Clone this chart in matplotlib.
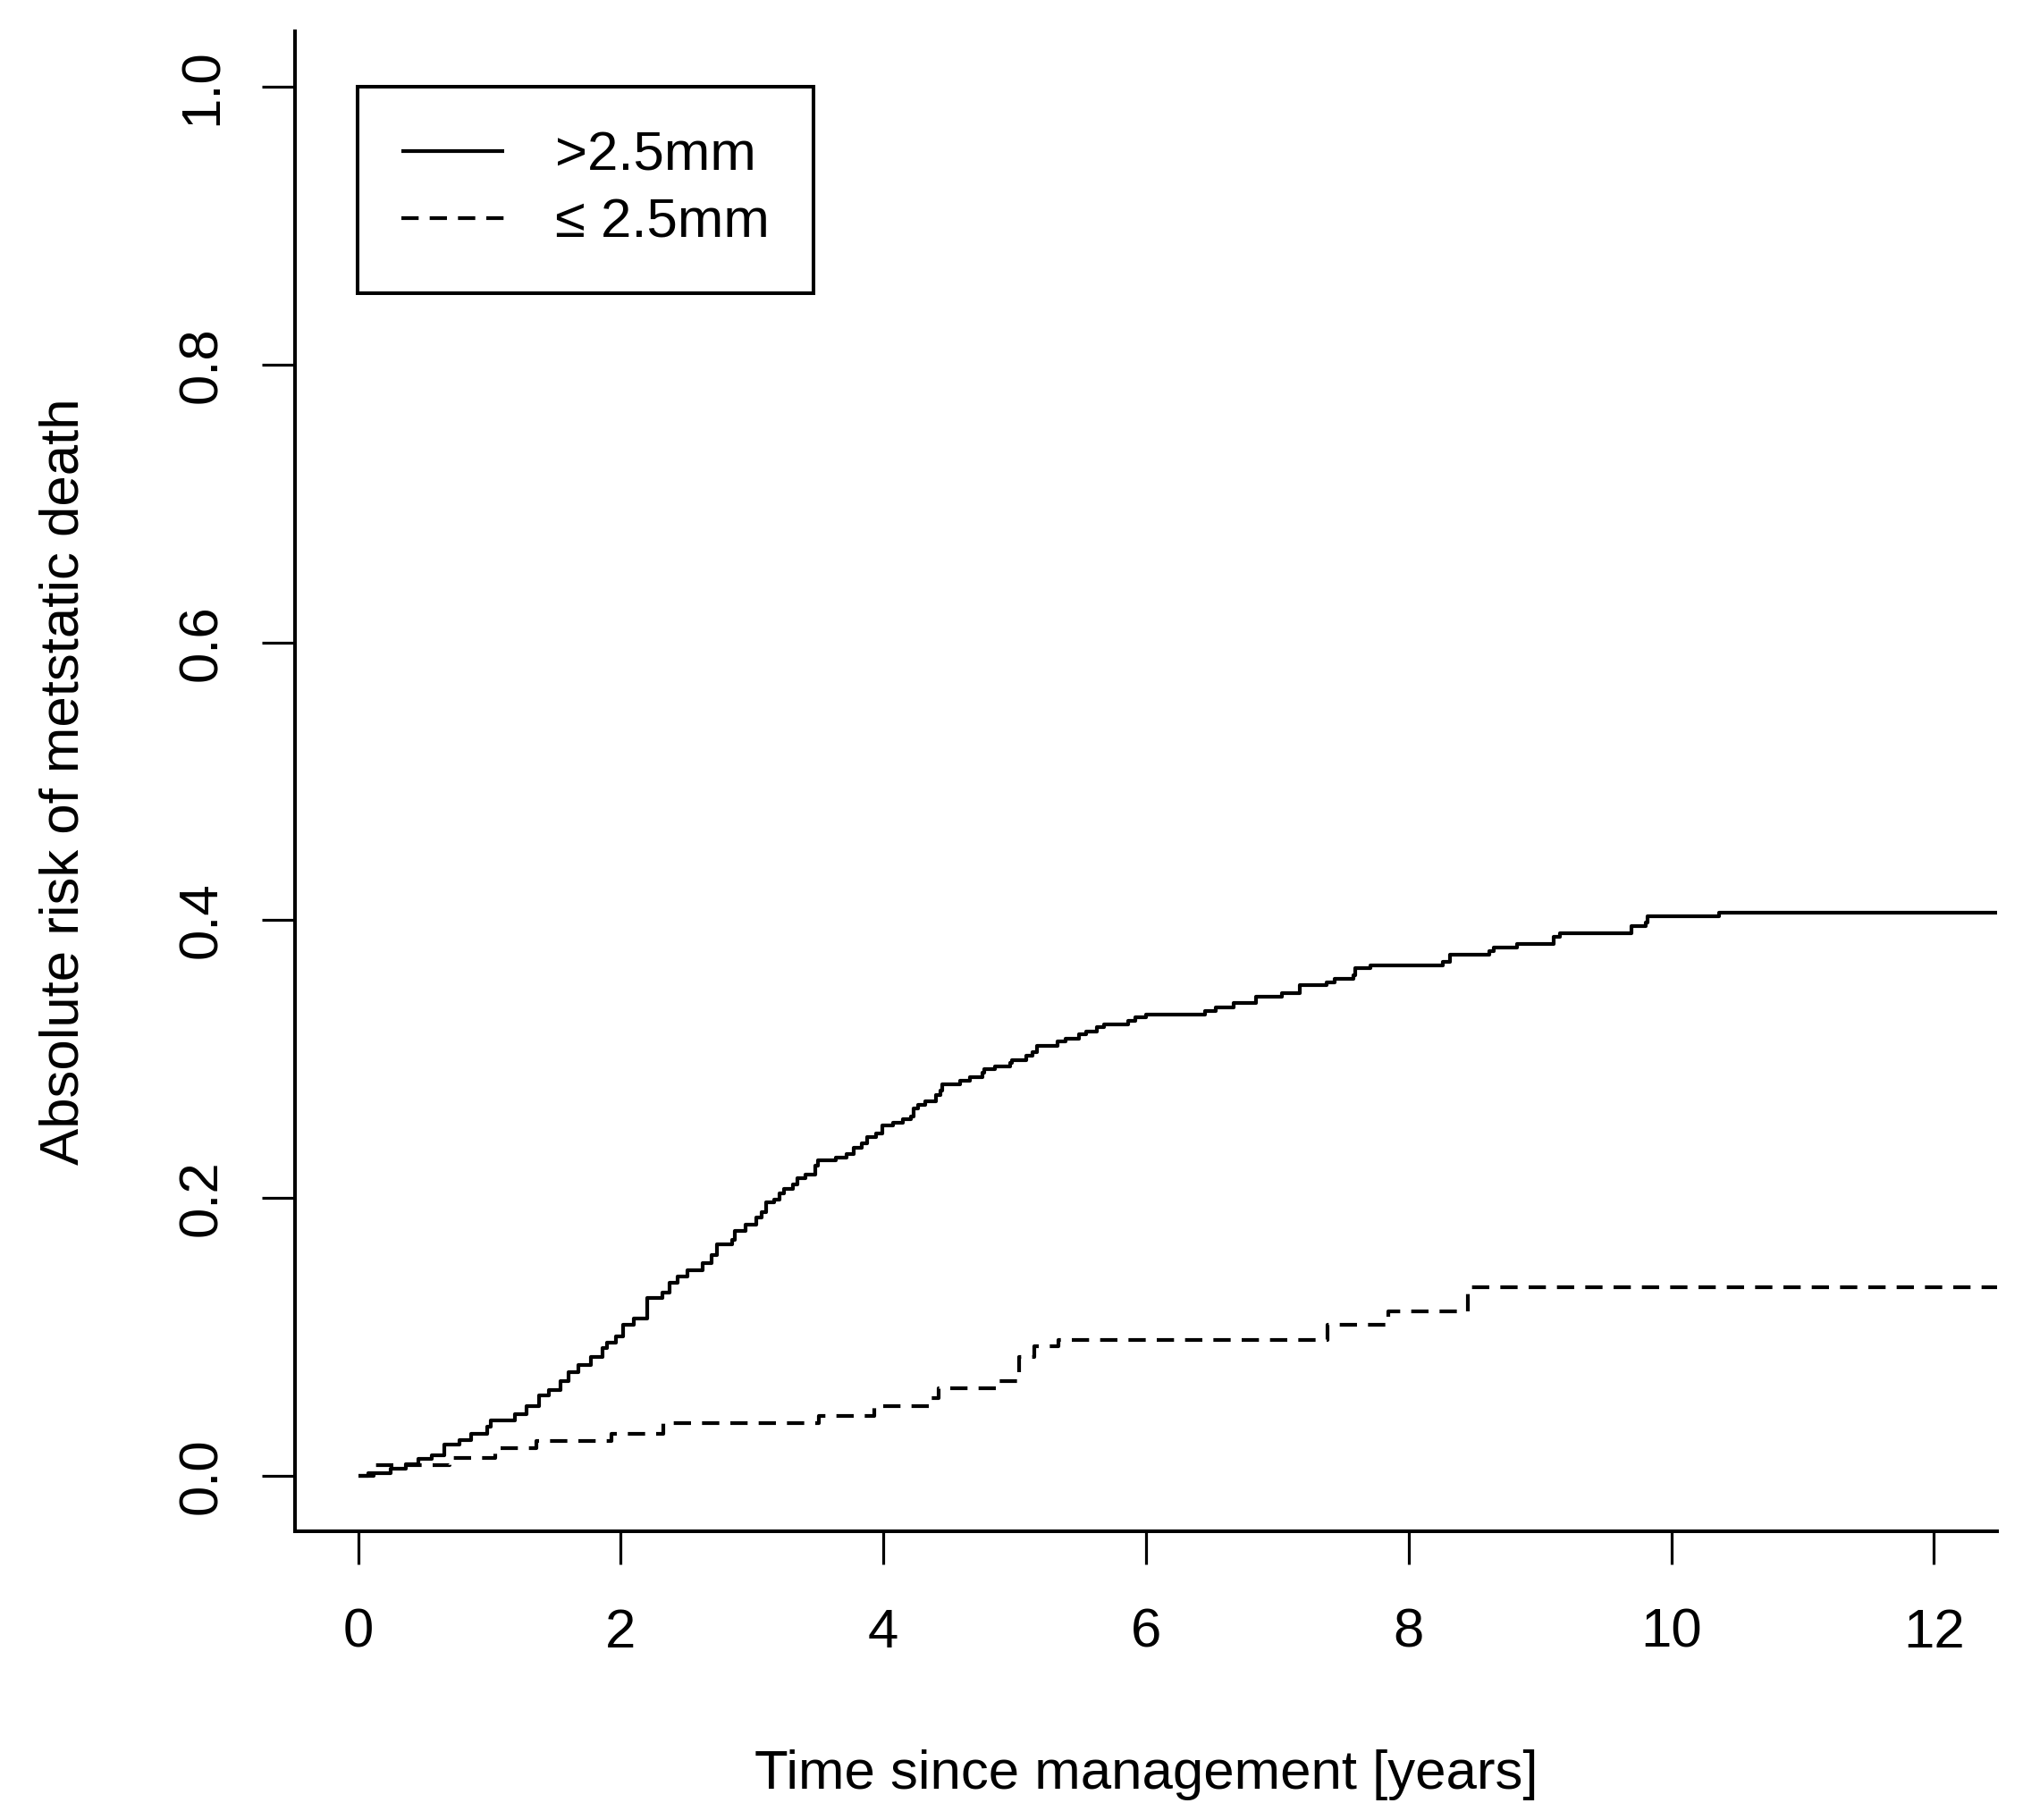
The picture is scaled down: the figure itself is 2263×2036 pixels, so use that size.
import matplotlib
matplotlib.use("Agg")
import matplotlib.pyplot as plt
import numpy as np

plt.rcParams['font.family'] = ['Liberation Sans', 'DejaVu Sans']
plt.rcParams['lines.scale_dashes'] = False

# ---- data ----
thick_times = [0.0, 0.075, 0.245, 0.367, 0.46, 0.56, 0.66, 0.77, 0.86, 0.985, 1.01,
               1.196, 1.28, 1.38, 1.455, 1.54, 1.60, 1.68, 1.77, 1.86, 1.895, 1.963,
               2.02, 2.10, 2.20, 2.316, 2.37, 2.43, 2.51, 2.622, 2.69, 2.736, 2.849,
               2.871, 2.951, 3.03, 3.075, 3.109, 3.166, 3.211, 3.245, 3.313, 3.347,
               3.404, 3.483, 3.505, 3.641, 3.72, 3.777, 3.834, 3.879, 3.947, 3.992,
               4.071, 4.151, 4.207, 4.230, 4.264, 4.321, 4.40, 4.434, 4.445, 4.581,
               4.66, 4.751, 4.767, 4.853, 4.966, 4.977, 5.09, 5.136, 5.17, 5.328,
               5.385, 5.487, 5.543, 5.623, 5.679, 5.861, 5.917, 5.997, 6.449, 6.529,
               6.664, 6.834, 7.038, 7.174, 7.378, 7.434, 7.582, 7.593, 7.706, 8.261,
               8.317, 8.617, 8.645, 8.827, 9.107, 9.149, 9.695, 9.807, 9.82, 10.366]
thick_risk = [0.0, 0.002, 0.005, 0.0085, 0.0124, 0.015, 0.0225, 0.0257, 0.030, 0.035, 0.040,
              0.044, 0.050, 0.058, 0.062, 0.068, 0.0745, 0.080, 0.0856, 0.092, 0.096, 0.1005,
              0.1087, 0.1134, 0.128, 0.1316, 0.139, 0.1433, 0.148, 0.1534, 0.159, 0.1669, 0.170,
              0.176, 0.181, 0.186, 0.190, 0.197, 0.199, 0.203, 0.2065, 0.2097, 0.214,
              0.2165, 0.223, 0.2268, 0.229, 0.2315, 0.2364, 0.2396, 0.2439, 0.2467, 0.252,
              0.2542, 0.2567, 0.2589, 0.2642, 0.267, 0.2696, 0.2743, 0.2771, 0.282, 0.2845,
              0.2871, 0.2899, 0.2925, 0.2948, 0.2974, 0.2995, 0.3021, 0.3049, 0.3096, 0.3124,
              0.3149, 0.3177, 0.3198, 0.3227, 0.3248, 0.3273, 0.3299, 0.3323, 0.3348, 0.3374,
              0.3402, 0.3449, 0.3477, 0.3530, 0.3551, 0.3577, 0.3605, 0.3654, 0.3676, 0.3701,
              0.375, 0.3776, 0.3802, 0.383, 0.3877, 0.3905, 0.3958, 0.3984, 0.4029, 0.4053]

thin_times = [0.0, 0.12, 0.70, 1.048, 1.361, 1.927, 2.321, 3.51, 3.93, 4.355, 4.42,
              4.876, 5.034, 5.15, 5.33, 7.38, 7.846, 8.453]
thin_risk = [0.0, 0.0075, 0.0128, 0.0199, 0.0252, 0.0304, 0.0379, 0.0428, 0.0503, 0.0556, 0.0627,
             0.068, 0.0856, 0.093, 0.098, 0.1085, 0.1183, 0.1359]

labels = [">2.5mm", "\u2264 2.5mm"]
x_ticks = [0, 2, 4, 6, 8, 10, 12]
y_ticks = [0.0, 0.2, 0.4, 0.6, 0.8, 1.0]
y_tick_labels = ["0.0", "0.2", "0.4", "0.6", "0.8", "1.0"]
x_label = "Time since management [years]"
y_label = "Absolute risk of metstatic death"

# ---- figure ----
W, H = 2263, 2036
fig = plt.figure(figsize=(W / 100, H / 100), dpi=100)
left, right, bottom, top = 330 / W, 2234 / W, 1 - 1713 / H, 1 - 35 / H
ax = fig.add_axes([left, bottom, right - left, top - bottom])

xmax = 12.48
ax.set_xlim(-0.48, xmax)
ax.set_ylim(-0.04, 1.04)

lw = 3.0
tx = list(thick_times) + [xmax]
ty = list(thick_risk) + [thick_risk[-1]]
nx = list(thin_times) + [xmax]
ny = list(thin_risk) + [thin_risk[-1]]
l1, = ax.step(tx, ty, where='post', color='black', lw=lw, solid_capstyle='butt')
l2, = ax.step(nx, ny, where='post', color='black', lw=lw,
              linestyle=(0, (13.9, 8.9)), dash_capstyle='butt')

fs = 44.5
ax.set_xticks(x_ticks)
ax.set_xticklabels([str(v) for v in x_ticks], fontsize=fs)
ax.set_yticks(y_ticks)
ax.set_yticklabels(y_tick_labels, fontsize=fs, rotation=90, va='center')

ax.tick_params(axis='both', direction='out', length=26.6, width=2.3, color='black')
ax.tick_params(axis='x', pad=35)
ax.tick_params(axis='y', pad=27)

for s in ['top', 'right']:
    ax.spines[s].set_visible(False)
for s in ['left', 'bottom']:
    ax.spines[s].set_linewidth(2.9)
    ax.spines[s].set_capstyle('projecting')

ax.set_xlabel(x_label, fontsize=fs, va='center', ha='center')
ax.xaxis.set_label_coords(0.5, (1713 - 1985) / (1713 - 35))
ax.set_ylabel(y_label, fontsize=fs, va='center', ha='center')
ax.yaxis.set_label_coords((72 - 330) / (2234 - 330), 0.5)

leg = ax.legend([l1, l2], labels, loc='upper left',
                bbox_to_anchor=((400 - 330) / (2234 - 330), (1713 - 97) / (1713 - 35)),
                borderaxespad=0, fontsize=fs, frameon=True, fancybox=False,
                framealpha=1, edgecolor='black', handlelength=1.85, handletextpad=0.92,
                borderpad=0.8, labelspacing=0.3)
leg.get_frame().set_linewidth(2.9)

fig.savefig("out.png", dpi=100, facecolor='white')
